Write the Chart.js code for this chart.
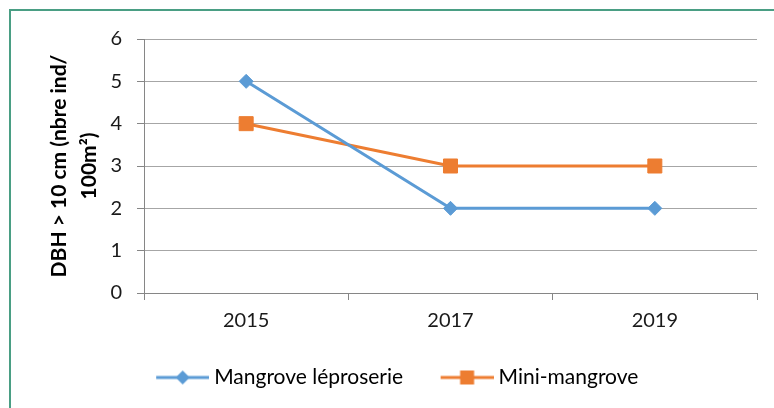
<!DOCTYPE html>
<html lang="fr">
<head>
    <meta charset="UTF-8">
    <title>DBH &gt; 10 cm</title>
    <script src="https://cdn.jsdelivr.net/npm/chart.js"></script>
    <style>
        html, body { margin: 0; padding: 0; background: #ffffff; }
        .chart-box { width: 774px; height: 408px; position: relative; }
    </style>
</head>
<body>
<div class="chart-box">
    <canvas id="dbhChart"></canvas>
</div>
<script>
    // données du graphique
    const years = ['2015', '2017', '2019'];
    const leproserie = [5, 2, 2];
    const miniMangrove = [4, 3, 3];
    const seriesNames = ['Mangrove léproserie', 'Mini-mangrove'];
    const yTitle = ['DBH > 10 cm (nbre ind/', '100m²)'];

    const blue = '#5B9BD5';
    const orange = '#ED7D31';
    const fontName = 'Lato, "Open Sans", sans-serif';

    // échantillon de légende : trait + marqueur
    function legendSample(color, shape) {
        const c = document.createElement('canvas');
        c.width = 86;
        c.height = 18;
        const g = c.getContext('2d');
        const x0 = c.width - 53;
        g.strokeStyle = color;
        g.lineWidth = 3;
        g.beginPath();
        g.moveTo(x0, 9);
        g.lineTo(c.width, 9);
        g.stroke();
        g.fillStyle = color;
        const cx = x0 + 26.5;
        if (shape === 'diamond') {
            g.beginPath();
            g.moveTo(cx, 2);
            g.lineTo(cx + 7, 9);
            g.lineTo(cx, 16);
            g.lineTo(cx - 7, 9);
            g.closePath();
            g.fill();
        } else {
            g.fillRect(cx - 7, 2, 14, 14);
        }
        return c;
    }

    // cadre vert (haut et gauche)
    const framePlugin = {
        id: 'frame',
        afterDraw(chart) {
            const ctx = chart.ctx;
            ctx.save();
            ctx.strokeStyle = '#4A9E84';
            ctx.lineWidth = 2;
            ctx.beginPath();
            ctx.moveTo(10, 408);
            ctx.lineTo(10, 10);
            ctx.lineTo(774, 10);
            ctx.stroke();
            ctx.restore();
        }
    };

    const ctx = document.getElementById('dbhChart').getContext('2d');
    new Chart(ctx, {
        type: 'line',
        data: {
            labels: years,
            datasets: [
                {
                    label: seriesNames[0],
                    data: leproserie,
                    borderColor: blue,
                    backgroundColor: blue,
                    borderWidth: 3,
                    pointStyle: 'rectRot',
                    pointRadius: 7,
                    pointBorderWidth: 1,
                    tension: 0
                },
                {
                    label: seriesNames[1],
                    data: miniMangrove,
                    borderColor: orange,
                    backgroundColor: orange,
                    borderWidth: 3,
                    pointStyle: 'rect',
                    pointRadius: 9.9,
                    pointBorderWidth: 1,
                    tension: 0
                }
            ]
        },
        options: {
            responsive: true,
            maintainAspectRatio: false,
            animation: false,
            layout: {
                padding: { left: 10, right: 17, top: 39, bottom: 10 }
            },
            scales: {
                x: {
                    offset: true,
                    grid: {
                        offset: true,
                        drawOnChartArea: false,
                        drawTicks: true,
                        tickLength: 7,
                        tickColor: '#868686',
                        tickWidth: 1
                    },
                    border: { color: '#868686', width: 1 },
                    ticks: {
                        color: '#1a1a1a',
                        padding: 9,
                        font: { family: fontName, size: 20 }
                    },
                    afterFit(scale) { scale.height = 64; }
                },
                y: {
                    min: 0,
                    max: 6,
                    ticks: {
                        stepSize: 1,
                        color: '#1a1a1a',
                        padding: 15,
                        font: { family: fontName, size: 20 }
                    },
                    grid: {
                        color: ctx => ctx.tick && ctx.tick.value === 0 ? 'rgba(0,0,0,0)' : '#a6a6a6',
                        borderDash: [2, 1],
                        tickLength: 7,
                        tickColor: '#868686',
                        tickBorderDash: [],
                        tickWidth: 1
                    },
                    border: { color: '#868686', width: 1, dash: [] },
                    title: {
                        display: true,
                        text: yTitle,
                        color: '#000000',
                        padding: { top: 34, bottom: 0 },
                        font: { family: fontName, size: 21, weight: 'bold', lineHeight: 1.45 }
                    },
                    afterFit(scale) { scale.width = 134; }
                }
            },
            plugins: {
                legend: {
                    position: 'bottom',
                    labels: {
                        usePointStyle: true,
                        pointStyleWidth: 75,
                        padding: 10,
                        color: '#000000',
                        font: { family: fontName, size: 21 },
                        generateLabels(chart) {
                            return chart.data.datasets.map((ds, i) => ({
                                text: ds.label,
                                fillStyle: ds.borderColor,
                                strokeStyle: ds.borderColor,
                                lineWidth: 0,
                                pointStyle: legendSample(ds.borderColor, i === 0 ? 'diamond' : 'square'),
                                datasetIndex: i,
                                hidden: false
                            }));
                        }
                    }
                },
                tooltip: { enabled: false }
            }
        },
        plugins: [framePlugin]
    });
</script>
</body>
</html>
